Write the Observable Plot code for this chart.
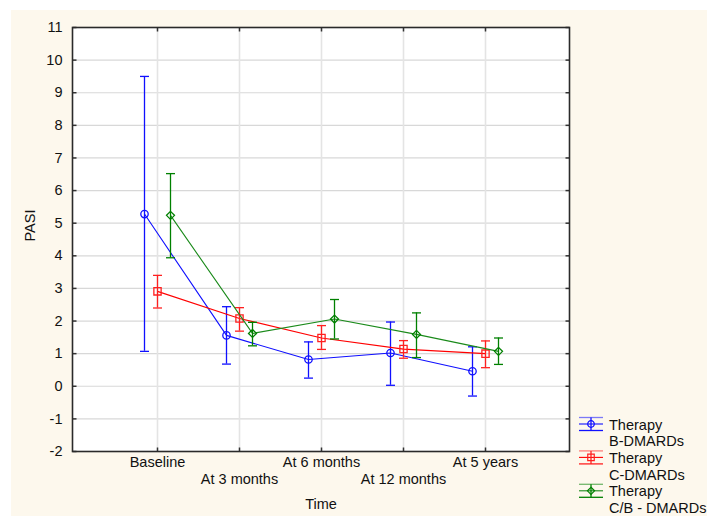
<!DOCTYPE html>
<html>
<head>
<meta charset="utf-8">
<script src="https://cdn.jsdelivr.net/npm/d3@7"></script>
<script src="https://cdn.jsdelivr.net/npm/@observablehq/plot@0.6"></script>
<style>
  body { margin: 0; background: #ffffff; }
  #wrap { position: relative; width: 707px; height: 519px; overflow: hidden; font-family: "Liberation Sans", Arial, sans-serif; }
  #panel { position: absolute; left: 11px; top: 10px; right: 0; bottom: 3px; background: #fdf8ed; }
  #chart { position: absolute; left: 0; top: 0; }
  #legend { position: absolute; left: 0; top: 0; }
</style>
</head>
<body>
<div id="wrap">
  <div id="panel"></div>
  <div id="chart"></div>
  <svg id="legend" width="707" height="519"></svg>
</div>
<script>
// Time points (x categories)
const times = ["Baseline", "At 3 months", "At 6 months", "At 12 months", "At 5 years"];

// Mean PASI with lower / upper error limits per therapy group
const bMean = [5.28, 1.56, 0.82, 1.02, 0.46];
const bLow  = [1.07, 0.68, 0.25, 0.03, -0.30];
const bHigh = [9.50, 2.44, 1.36, 1.97, 1.21];

const cMean = [2.91, 2.08, 1.48, 1.14, 1.00];
const cLow  = [2.40, 1.69, 1.13, 0.86, 0.57];
const cHigh = [3.40, 2.41, 1.86, 1.40, 1.39];

const cbMean = [5.24, 1.62, 2.06, 1.59, 1.07];
const cbLow  = [3.94, 1.24, 1.45, 0.88, 0.67];
const cbHigh = [6.52, 1.96, 2.66, 2.25, 1.48];

const seriesNames = ["B-DMARDs", "C-DMARDs", "C/B - DMARDs"];
const yTicks = d3.range(-2, 12);

const FS = 14.5;
const FONT = "'Liberation Sans', Arial, sans-serif";

const styles = [
  {color: "#0f0fff", bar: "#1010ff", symbol: "circle", r: 3.7, dx: -13},
  {color: "#ff0000", bar: "#ff2020", symbol: "square", r: 4.1, dx: 0},
  {color: "#1a8a1a", bar: "#008000", symbol: "diamond2", r: 3.6, dx: 13}
];

const table = (mean, low, high) => times.map((t, i) => ({time: t, mean: mean[i], low: low[i], high: high[i]}));
const series = [table(bMean, bLow, bHigh), table(cMean, cLow, cHigh), table(cbMean, cbLow, cbHigh)];

// custom symbols: error-bar caps and inward frame ticks
const cap = {draw(ctx) { ctx.moveTo(-4.5, 0); ctx.lineTo(4.5, 0); }};
const tickIn = (dx, dy) => ({draw(ctx) { ctx.moveTo(0, 0); ctx.lineTo(dx, dy); }});

const seriesMarks = series.flatMap((rows, k) => {
  const s = styles[k];
  return [
    Plot.line(rows, {x: "time", y: "mean", stroke: s.color, strokeWidth: 1.1, dx: s.dx}),
    Plot.ruleX(rows, {x: "time", y1: "low", y2: "high", stroke: s.bar, strokeWidth: 1.3, dx: s.dx}),
    Plot.dot(rows, {x: "time", y: "high", symbol: cap, stroke: s.bar, strokeWidth: 1.3, dx: s.dx}),
    Plot.dot(rows, {x: "time", y: "low", symbol: cap, stroke: s.bar, strokeWidth: 1.3, dx: s.dx}),
    Plot.dot(rows, {x: "time", y: "mean", symbol: s.symbol, r: s.r, stroke: s.bar, strokeWidth: 1.3, fill: "none", dx: s.dx})
  ];
});

const even = times.filter((d, i) => i % 2 === 0);
const odd = times.filter((d, i) => i % 2 === 1);

const chart = Plot.plot({
  width: 707,
  height: 519,
  marginLeft: 72,
  marginTop: 27,
  marginRight: 138,
  marginBottom: 68,
  style: {background: "transparent", fontFamily: FONT, fontSize: FS + "px", color: "#111"},
  x: {type: "point", domain: times, padding: 1, axis: null},
  y: {domain: [-2, 11], axis: null},
  marks: [
    Plot.frame({fill: "#ffffff", stroke: "none"}),
    Plot.gridY(yTicks, {stroke: "#d8d8d8", strokeOpacity: 1, strokeWidth: 1.2}),
    Plot.gridX(times, {stroke: "#e4e4e4", strokeOpacity: 1, strokeWidth: 1.6}),
    Plot.axisY(yTicks, {tickSize: 0, tickPadding: 10, tickFormat: d => String(d), fill: "#111", fontSize: FS}),
    Plot.dot(yTicks, {y: d => d, frameAnchor: "left", symbol: tickIn(4, 0), stroke: "#333"}),
    Plot.dot(yTicks, {y: d => d, frameAnchor: "right", symbol: tickIn(-4, 0), stroke: "#333"}),
    Plot.dot(times, {x: d => d, frameAnchor: "bottom", symbol: tickIn(0, -4), stroke: "#333"}),
    Plot.dot(times, {x: d => d, frameAnchor: "top", symbol: tickIn(0, 4), stroke: "#333"}),
    Plot.text(even, {x: d => d, frameAnchor: "bottom", dy: 15, fill: "#111", fontSize: FS}),
    Plot.text(odd, {x: d => d, frameAnchor: "bottom", dy: 32, fill: "#111", fontSize: FS}),
    Plot.text(["Time"], {frameAnchor: "bottom", dy: 57, fill: "#111", fontSize: FS}),
    Plot.text(["PASI"], {frameAnchor: "left", dx: -42, dy: 2, rotate: -90, fill: "#111", fontSize: FS}),
    ...seriesMarks,
    Plot.frame({stroke: "#2a2a2a", strokeWidth: 1.6})
  ]
});
document.getElementById("chart").appendChild(chart);

// Legend: error-bar glyph plus two-line label for each therapy group
const legend = d3.select("#legend");
const symbolTypes = {circle: d3.symbolCircle, square: d3.symbolSquare, diamond2: d3.symbolDiamond2};
seriesNames.forEach((name, k) => {
  const s = styles[k];
  const cy = 424 + k * 33.4;
  const g = legend.append("g").attr("transform", `translate(591,${cy})`);
  g.append("line").attr("x1", -12).attr("x2", 12).attr("y1", -6.5).attr("y2", -6.5).attr("stroke", s.bar).attr("stroke-opacity", 0.55).attr("stroke-width", 1.3);
  g.append("line").attr("x1", -12).attr("x2", 12).attr("y1", 6.5).attr("y2", 6.5).attr("stroke", s.bar).attr("stroke-width", 1.3);
  g.append("line").attr("x1", -12).attr("x2", 12).attr("y1", 0).attr("y2", 0).attr("stroke", s.color).attr("stroke-width", 1.1);
  g.append("line").attr("x1", 0).attr("x2", 0).attr("y1", -6.5).attr("y2", 6.5).attr("stroke", s.bar).attr("stroke-width", 1.3);
  g.append("path").attr("d", d3.symbol(symbolTypes[s.symbol], Math.PI * s.r * s.r * 0.8)()).attr("fill", "none").attr("stroke", s.bar).attr("stroke-width", 1.2);
  const t = legend.append("text").attr("x", 609).attr("y", cy + 5.5)
    .attr("font-family", FONT).attr("font-size", FS).attr("fill", "#111");
  t.append("tspan").attr("x", 609).text("Therapy");
  t.append("tspan").attr("x", 609).attr("dy", 16.8).text(name);
});
</script>
</body>
</html>
